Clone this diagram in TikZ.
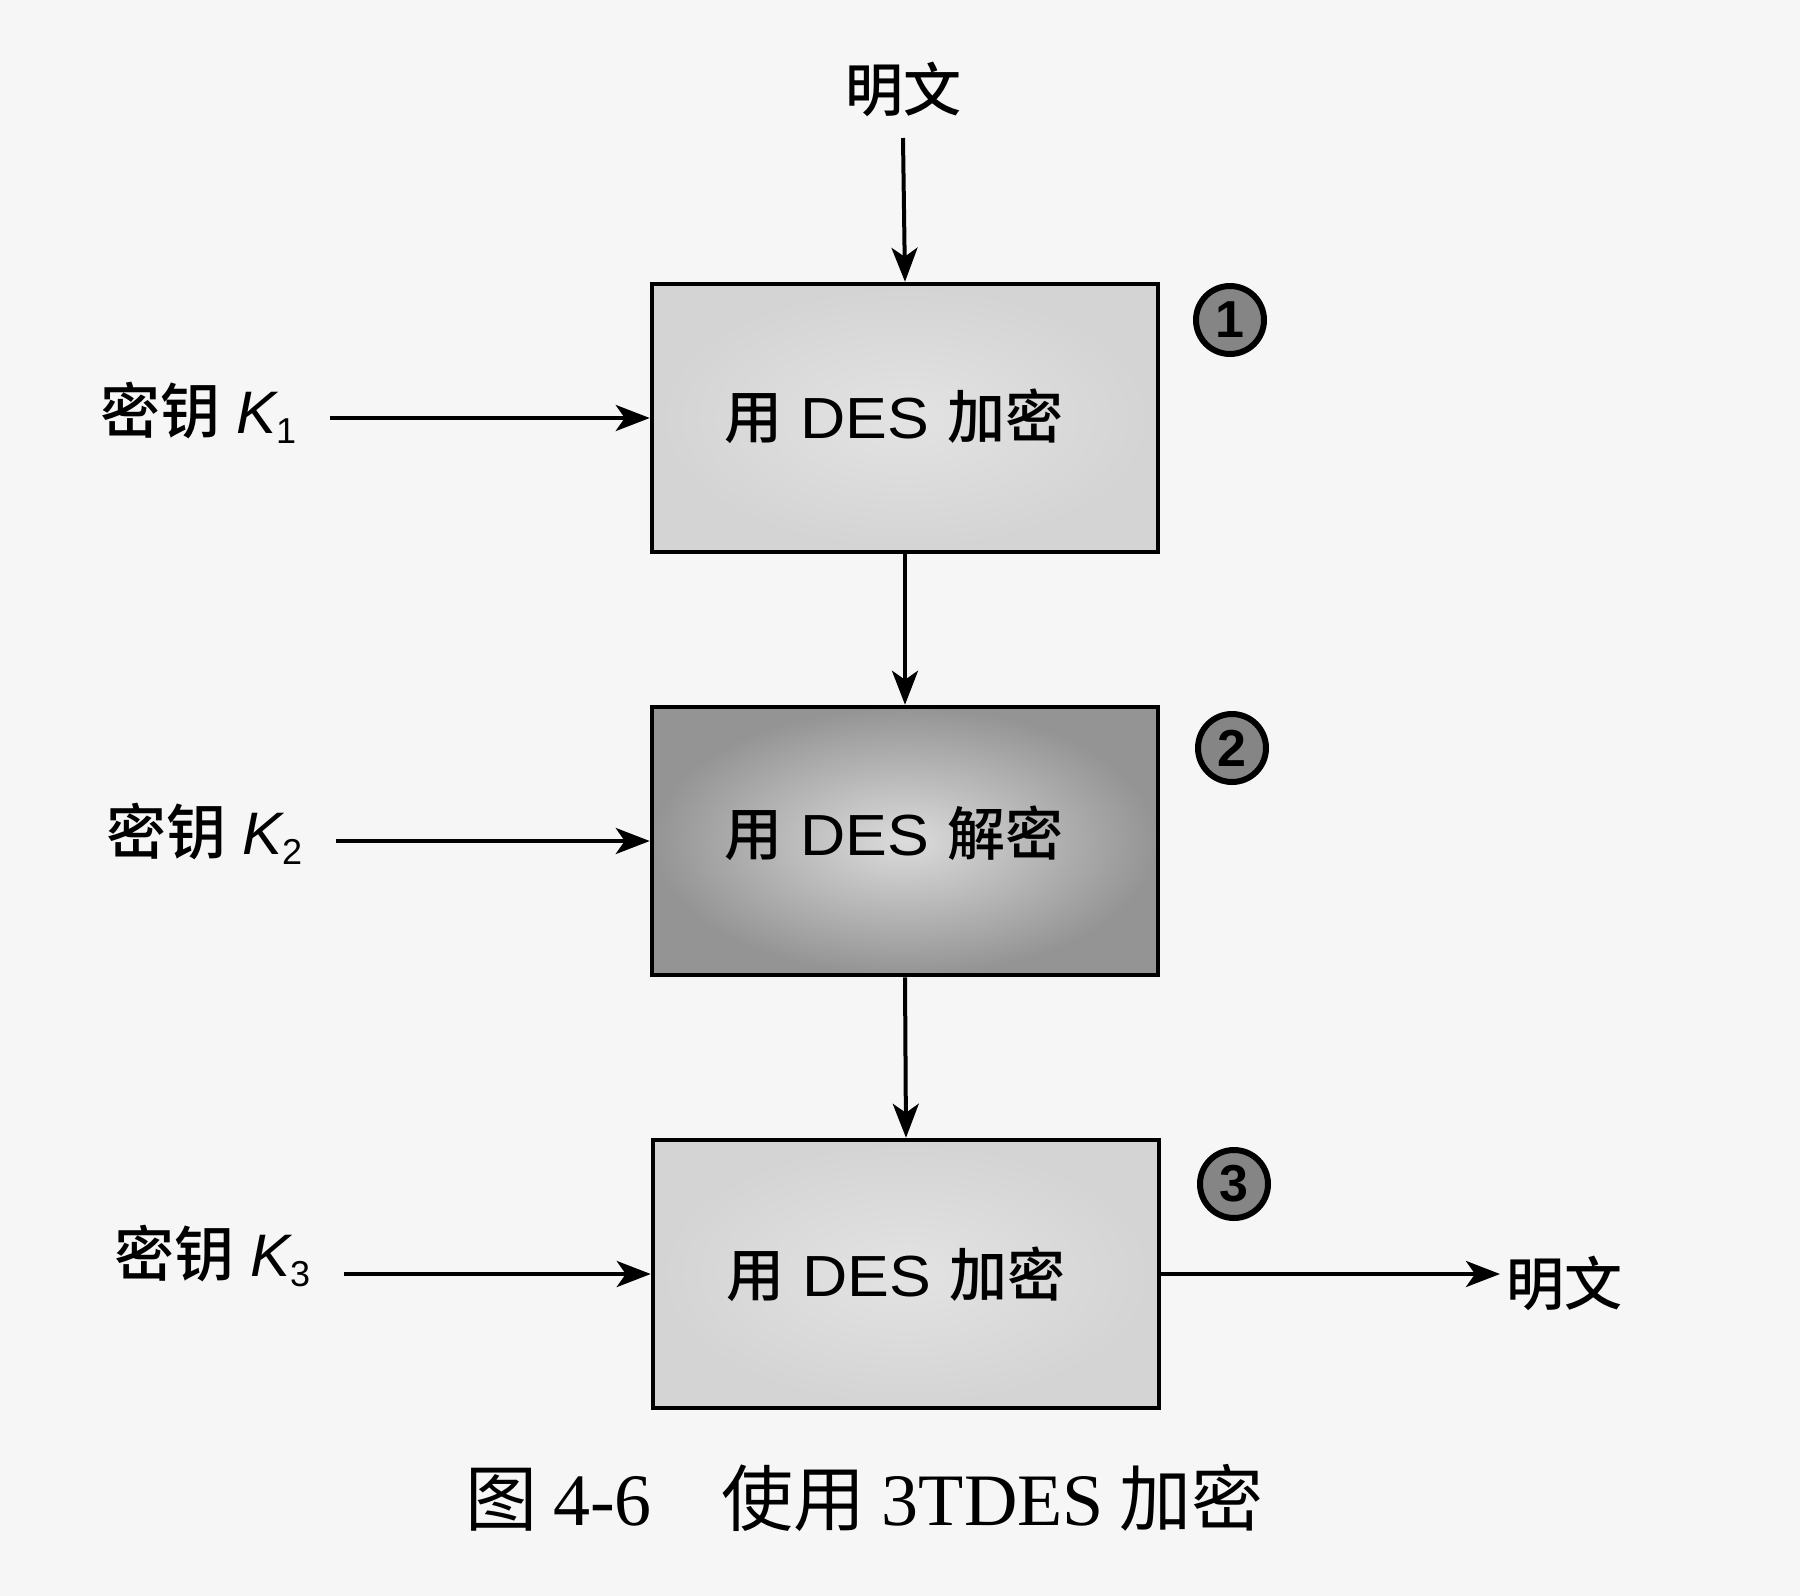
\documentclass[tikz,border=0pt]{standalone}
\usepackage{fontspec}
\usepackage{graphicx}
\setmainfont{Liberation Sans}
\newfontfamily\cjk{Noto Sans CJK SC}
\newfontfamily\cjkm{Noto Sans CJK SC Medium}
\newfontfamily\capserif{Liberation Serif}
\usetikzlibrary{arrows.meta}
\definecolor{paper}{gray}{0.965}
\definecolor{boxin}{gray}{0.89}
\definecolor{boxout}{gray}{0.83}
\definecolor{darkin}{gray}{0.86}
\definecolor{darkout}{gray}{0.58}
\definecolor{markfill}{gray}{0.52}
% key label: Chinese word, italic K, upright subscript
\newcommand{\keyname}[1]{{\cjkm 密钥}\hspace{16pt}{\itshape K}\raisebox{-10pt}{\fontsize{36}{36}\selectfont #1}}
% stage text: Chinese verb, DES, Chinese operation
\newcommand{\stagetext}[1]{{\cjkm 用}\hspace{18pt}\scalebox{1.08}[1]{DES}\hspace{18pt}{\cjkm #1}}
\begin{document}
\begin{tikzpicture}[x=1pt,y=-1pt,
  flow/.style={line width=4pt,-{Stealth[length=34pt,width=26pt,inset=9pt]}},
  desbox/.style={draw=black,line width=4.5pt,minimum width=506pt,minimum height=268pt,inner sep=0pt},
  lightbox/.style={desbox,inner color=boxin,outer color=boxout},
  darkbox/.style={desbox,inner color=darkin,outer color=darkout},
  boxtext/.style={font=\fontsize{58}{62}\selectfont},
  keytext/.style={anchor=west,inner sep=0pt,font=\fontsize{60}{62}\selectfont},
  plaintext/.style={inner sep=6pt,font=\cjkm\fontsize{58}{60}\selectfont},
  stagemark/.style={circle,draw=black,line width=6pt,fill=markfill,minimum size=68pt,inner sep=0pt,font=\fontsize{52}{52}\selectfont\bfseries}
]
\useasboundingbox[fill=paper] (0,0) rectangle (1800,1596);

% the three DES stages
\node[lightbox] (b1) at (905,418) {};
\node[darkbox]  (b2) at (905,841) {};
\node[lightbox] (b3) at (906,1274) {};

\node[boxtext] (t1) at (894,416) {\stagetext{加密}};
\node[boxtext] (t2) at (894,833) {\stagetext{解密}};
\node[boxtext] (t3) at (896,1274) {\stagetext{加密}};

% stage numbers
\node[stagemark] (c1) at (1230,320) {1};
\node[stagemark] (c2) at (1232,748) {2};
\node[stagemark] (c3) at (1234,1184) {3};

% input and output text
\node[plaintext] (pin) at (903,89) {明文};
\node[plaintext,anchor=west] (pout) at (1500,1283) {明文};

% keys
\node[keytext] (k1) at (100,413) {\keyname{1}};
\node[keytext] (k2) at (106,834) {\keyname{2}};
\node[keytext] (k3) at (114,1256) {\keyname{3}};

% data path
\draw[flow] (pin.south |- 0,138) -- (b1.north);
\draw[flow] (b1.south) -- (b2.north);
\draw[flow] (b2.south) -- (b3.north);
\draw[flow] (b3.east) -- (b3.east -| pout.west);

% key inputs
\draw[flow] (k1.east |- b1.west) ++(34,0) -- (b1.west);
\draw[flow] (k2.east |- b2.west) ++(34,0) -- (b2.west);
\draw[flow] (k3.east |- b3.west) ++(34,0) -- (b3.west);

% caption
\node[anchor=west,inner sep=0pt,font=\fontsize{72}{76}\selectfont] (cap) at (465,1498)
  {{\cjk 图}\hspace{16pt}{\capserif\fontsize{74}{74}\selectfont 4-6}\hspace{70pt}{\cjk 使用}\hspace{16pt}{\capserif\fontsize{74}{74}\selectfont 3TDES}\hspace{16pt}{\cjk 加密}};
\end{tikzpicture}
\end{document}
